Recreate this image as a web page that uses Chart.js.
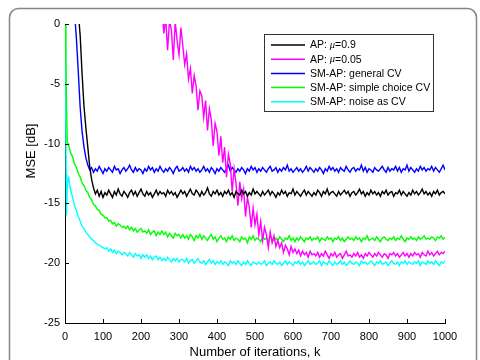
<!DOCTYPE html>
<html lang="en">
<head>
<meta charset="UTF-8">
<title>MSE vs iteraciones</title>
<script src="https://cdn.jsdelivr.net/npm/chart.js@4.4.0/dist/chart.umd.min.js"></script>
<style>
  html, body { margin: 0; padding: 0; background: #fff; }
  canvas { display: block; }
</style>
</head>
<body>
<canvas id="grafico" width="480" height="360"></canvas>
<script>
// Iteraciones (eje x)
const iteraciones = [0, 2, 4, 6, 8,
  10, 15, 20, 25, 30, 35, 40, 45, 50, 55,
  60, 65, 70, 75, 80, 85, 90, 95, 100, 105,
  110, 115, 120, 125, 130, 135, 140, 145, 150, 155,
  160, 165, 170, 175, 180, 185, 190, 195, 200, 205,
  210, 215, 220, 225, 230, 235, 240, 245, 250, 255,
  260, 265, 270, 275, 280, 285, 290, 295, 300, 305,
  310, 315, 320, 325, 330, 335, 340, 345, 350, 355,
  360, 365, 370, 375, 380, 385, 390, 395, 400, 405,
  410, 415, 420, 425, 430, 435, 440, 445, 450, 455,
  460, 465, 470, 475, 480, 485, 490, 495, 500, 505,
  510, 515, 520, 525, 530, 535, 540, 545, 550, 555,
  560, 565, 570, 575, 580, 585, 590, 595, 600, 605,
  610, 615, 620, 625, 630, 635, 640, 645, 650, 655,
  660, 665, 670, 675, 680, 685, 690, 695, 700, 705,
  710, 715, 720, 725, 730, 735, 740, 745, 750, 755,
  760, 765, 770, 775, 780, 785, 790, 795, 800, 805,
  810, 815, 820, 825, 830, 835, 840, 845, 850, 855,
  860, 865, 870, 875, 880, 885, 890, 895, 900, 905,
  910, 915, 920, 925, 930, 935, 940, 945, 950, 955,
  960, 965, 970, 975, 980, 985, 990, 995, 1000];

// AP: mu = 0.9
const apMu09 = [4, 4, 4, 4, 4,
  4, 4, 3.5, 3, 2, 1, -1, -4.2, -6.9, -8.7,
  -10.3, -11.9, -13.0, -13.7, -14.2, -13.9, -14.4, -14.0, -14.5, -14.1,
  -14.3, -13.9, -14.2, -14.5, -14.0, -14.3, -13.8, -14.2, -14.4, -14.0,
  -14.2, -14.5, -14.1, -13.9, -14.3, -14.0, -14.4, -14.1, -13.8, -14.2,
  -14.4, -14.0, -14.3, -14.1, -14.5, -14.2, -13.9, -14.3, -14.0, -14.2,
  -14.1, -14.4, -13.9, -14.2, -14.0, -14.3, -14.1, -14.5, -14.2, -13.9,
  -14.2, -14.0, -14.4, -14.1, -13.8, -14.2, -14.3, -13.9, -14.1, -14.4,
  -14.0, -14.3, -14.1, -13.7, -14.2, -14.4, -14.0, -14.2, -13.9, -14.3,
  -14.1, -14.4, -14.0, -14.2, -13.9, -14.3, -14.1, -14.5, -14.0, -14.2,
  -14.3, -13.9, -14.2, -14.0, -14.4, -14.1, -14.3, -13.8, -14.2, -14.0,
  -14.2, -14.4, -14.0, -14.3, -14.1, -13.9, -14.3, -14.0, -14.2, -14.5,
  -14.1, -14.3, -13.9, -14.2, -14.0, -14.4, -14.1, -14.2, -13.8, -14.3,
  -14.0, -14.2, -14.4, -14.1, -13.9, -14.3, -14.0, -14.2, -14.4, -14.1,
  -14.3, -13.9, -14.1, -14.4, -14.0, -14.2, -13.8, -14.3, -14.1, -14.0,
  -14.2, -14.4, -14.0, -14.3, -14.1, -13.9, -14.2, -14.0, -14.4, -14.1,
  -14.0, -14.3, -14.1, -13.8, -14.2, -14.0, -14.4, -14.1, -14.3, -13.9,
  -14.2, -14.0, -14.3, -14.1, -14.4, -14.0, -14.2, -13.9, -14.3, -14.1,
  -14.0, -14.4, -14.1, -14.2, -13.9, -14.3, -14.0, -14.2, -14.4, -14.1,
  -14.3, -13.9, -14.2, -14.0, -14.3, -14.1, -13.8, -14.2, -14.0, -14.3,
  -14.1, -14.4, -14.0, -14.2, -13.9, -14.3, -14.1, -14.0, -14.2];

// AP: mu = 0.05
const apMu005 = [3, 3, 3, 3, 3,
  3, 3, 3, 3, 3, 3, 3, 3, 3, 3,
  3, 3, 3, 3, 3, 3, 3, 3, 3, 3,
  3, 3, 3, 3, 3, 3, 3, 3, 3, 3,
  3, 3, 3, 3, 3, 3, 3, 3, 3, 3,
  3, 3, 3, 3, 3, 3, 3, 3, 3, 1.5,
  -0.8, 0.5, -2.2, 0.3, -0.5, -3.0, 0.2, -1.4, -2.6, -0.3,
  -1.8, -3.4, -2.5, -4.6, -3.7, -5.8, -4.3, -5.2, -7.2, -5.6,
  -6.0, -7.8, -6.4, -8.9, -7.1, -8.0, -10.2, -8.3, -9.0, -11.0,
  -9.4, -11.6, -10.3, -12.8, -10.9, -11.7, -14.0, -12.1, -13.3, -15.2,
  -13.2, -14.6, -13.8, -16.1, -14.5, -15.3, -17.0, -15.4, -16.8, -15.9,
  -17.6, -16.5, -18.1, -17.0, -17.6, -18.7, -17.4, -18.3, -17.7, -18.6,
  -18.1, -18.7, -18.3, -19.1, -18.5, -18.8, -19.3, -18.6, -19.1, -18.8,
  -19.2, -18.9, -19.4, -19.0, -19.3, -19.1, -19.5, -19.0, -19.3, -19.2,
  -19.4, -19.1, -19.5, -19.2, -19.4, -19.0, -19.3, -19.6, -19.2, -19.4,
  -19.1, -19.5, -19.3, -19.2, -19.6, -19.3, -19.0, -19.4, -19.3, -19.5,
  -19.2, -19.4, -19.1, -19.5, -19.3, -19.6, -19.2, -19.4, -19.1, -19.3,
  -19.5, -19.2, -19.4, -19.1, -19.3, -19.5, -19.2, -19.3, -19.6, -19.2,
  -19.3, -19.1, -19.4, -19.2, -19.5, -19.3, -19.1, -19.4, -19.2, -19.5,
  -19.2, -19.4, -19.1, -19.3, -19.2, -19.5, -19.1, -19.3, -19.4, -19.0,
  -19.3, -19.1, -19.4, -19.2, -19.0, -19.3, -19.1, -19.2, -19.0];

// SM-AP: general CV
const smapGeneral = [4, 4, 4, 4, 4,
  4, 4, 3.5, 1, -1.2, -4, -7, -9, -10.3, -11.2,
  -11.8, -12.2, -12.0, -12.4, -12.1, -12.3, -11.9, -12.2, -12.5, -12.1,
  -12.3, -12.0, -12.2, -12.4, -11.9, -12.2, -12.1, -12.5, -12.2, -12.0,
  -12.3, -12.1, -11.8, -12.2, -12.4, -12.0, -12.3, -12.1, -12.2, -12.5,
  -12.1, -12.3, -11.9, -12.2, -12.0, -12.4, -12.1, -12.3, -11.9, -12.2,
  -12.4, -12.1, -12.3, -12.0, -12.2, -12.5, -12.1, -11.9, -12.3, -12.2,
  -12.0, -12.3, -12.1, -12.4, -11.9, -12.2, -12.0, -12.3, -12.1, -12.4,
  -12.2, -11.9, -12.3, -12.1, -12.4, -12.0, -12.2, -12.5, -12.1, -12.3,
  -12.0, -12.2, -12.4, -12.1, -11.8, -12.3, -12.0, -12.2, -12.4, -12.1,
  -12.3, -12.0, -12.2, -12.5, -12.1, -12.3, -11.9, -12.2, -12.0, -12.4,
  -12.1, -12.3, -12.0, -12.2, -12.4, -12.1, -11.9, -12.3, -12.2, -12.0,
  -12.4, -12.1, -12.3, -12.0, -12.2, -11.8, -12.3, -12.1, -12.4, -12.2,
  -12.0, -12.3, -12.1, -12.4, -12.2, -11.9, -12.3, -12.0, -12.2, -12.4,
  -12.1, -12.3, -12.0, -12.2, -12.5, -12.1, -12.3, -11.9, -12.2, -12.0,
  -12.3, -12.1, -12.4, -12.0, -12.2, -12.3, -11.9, -12.2, -12.4, -12.1,
  -12.0, -12.3, -12.1, -12.2, -11.8, -12.3, -12.0, -12.4, -12.1, -12.2,
  -12.4, -12.0, -12.2, -12.3, -12.1, -11.9, -12.2, -12.4, -12.0, -12.3,
  -12.1, -12.2, -11.9, -12.3, -12.0, -12.4, -12.1, -12.2, -11.8, -12.3,
  -12.0, -12.2, -12.4, -12.1, -12.3, -11.9, -12.2, -12.0, -12.3, -12.1,
  -12.2, -11.9, -12.3, -12.0, -12.2, -12.4, -12.1, -11.8, -12.2];

// SM-AP: simple choice CV
const smapSimple = [3, -2, -7, -9.9, -10.0,
  -10.2, -10.8, -11.1, -11.7, -12.0, -12.5, -12.8, -13.3, -13.5, -13.9,
  -14.1, -14.5, -14.7, -15.1, -15.2, -15.5, -15.6, -15.9, -16.0, -16.2,
  -16.2, -16.5, -16.4, -16.7, -16.6, -16.9, -16.7, -16.8, -17.0, -16.9,
  -17.1, -16.9, -17.2, -17.0, -17.3, -17.1, -17.4, -17.2, -17.1, -17.4,
  -17.3, -17.5, -17.2, -17.6, -17.4, -17.3, -17.7, -17.4, -17.6, -17.3,
  -17.6, -17.4, -17.8, -17.5, -17.7, -17.9, -17.5, -17.7, -17.6, -17.9,
  -17.6, -17.9, -17.7, -18.0, -17.6, -17.8, -18.1, -17.7, -17.9, -17.6,
  -18.0, -17.7, -17.9, -18.1, -17.8, -17.6, -18.0, -17.8, -18.2, -17.9,
  -17.7, -18.0, -17.9, -18.2, -17.8, -18.0, -17.7, -18.1, -17.9, -18.0,
  -18.2, -17.8, -18.0, -17.9, -18.3, -17.8, -18.0, -17.7, -18.1, -17.9,
  -18.0, -18.2, -17.8, -18.0, -17.9, -18.2, -17.7, -18.0, -18.1, -17.9,
  -18.1, -17.8, -18.0, -18.2, -17.9, -18.0, -17.7, -18.1, -17.9, -18.2,
  -17.9, -18.1, -17.8, -18.0, -18.2, -17.9, -18.0, -17.8, -18.1, -17.9,
  -18.0, -17.8, -18.2, -17.9, -18.0, -18.1, -17.8, -18.0, -17.9, -18.2,
  -17.9, -18.0, -17.8, -18.1, -17.9, -18.2, -18.0, -17.8, -18.0, -17.9,
  -18.1, -17.8, -18.0, -17.9, -18.2, -17.9, -18.0, -17.7, -18.1, -18.0,
  -17.9, -18.1, -17.8, -18.0, -18.2, -17.9, -17.8, -18.0, -18.1, -17.9,
  -18.0, -17.8, -18.1, -17.9, -18.0, -17.7, -18.0, -18.2, -17.9, -18.0,
  -17.8, -18.0, -17.9, -18.1, -17.8, -18.0, -17.9, -17.7, -18.0, -17.9,
  -18.0, -17.8, -17.9, -18.1, -17.8, -17.9, -17.7, -18.0, -17.8];

// SM-AP: noise as CV
const smapRuido = [3, -8, -16, -13.5, -12.8,
  -13.0, -13.9, -14.5, -15.2, -15.6, -16.1, -16.5, -16.9, -17.1, -17.4,
  -17.6, -17.8, -18.0, -18.1, -18.3, -18.4, -18.5, -18.6, -18.7, -18.8,
  -18.7, -19.0, -18.8, -19.1, -18.9, -19.2, -19.0, -19.1, -19.3, -19.1,
  -19.2, -19.4, -19.1, -19.3, -19.5, -19.2, -19.4, -19.3, -19.6, -19.3,
  -19.5, -19.3, -19.6, -19.4, -19.7, -19.5, -19.4, -19.7, -19.5, -19.8,
  -19.6, -19.8, -19.5, -19.7, -19.9, -19.6, -19.8, -19.6, -19.9, -19.7,
  -19.7, -19.9, -19.6, -20.0, -19.8, -19.7, -20.0, -19.8, -19.6, -19.9,
  -20.0, -19.8, -20.1, -19.9, -19.7, -20.0, -19.8, -20.1, -19.9, -20.0,
  -19.8, -20.1, -19.9, -20.0, -20.2, -19.8, -20.0, -19.9, -20.1, -19.8,
  -20.0, -20.2, -19.9, -20.1, -19.8, -20.0, -20.2, -19.9, -20.0, -20.1,
  -19.9, -20.1, -20.0, -19.8, -20.2, -20.0, -19.9, -20.1, -19.8, -20.0,
  -20.1, -19.9, -20.2, -20.0, -19.8, -20.1, -19.9, -20.0, -20.2, -19.9,
  -20.0, -19.8, -20.1, -19.9, -20.2, -20.0, -19.8, -20.1, -20.0, -19.9,
  -20.1, -20.0, -19.8, -20.2, -19.9, -20.0, -20.1, -19.8, -20.0, -20.2,
  -19.9, -20.1, -20.0, -19.8, -20.1, -19.9, -20.2, -20.0, -19.8, -20.0,
  -20.1, -19.9, -20.0, -20.2, -19.8, -20.0, -19.9, -20.1, -20.0, -19.8,
  -20.0, -20.2, -19.9, -20.0, -19.8, -20.1, -20.0, -19.9, -20.2, -20.0,
  -19.8, -20.0, -20.1, -19.9, -20.2, -19.9, -20.0, -19.8, -20.1, -19.9,
  -20.0, -20.1, -19.9, -20.0, -19.8, -20.2, -19.9, -20.0, -20.1, -19.8,
  -20.0, -19.9, -20.1, -19.8, -20.0, -20.2, -19.9, -20.0, -19.8];

const etiquetas = ['AP: μ=0.9', 'AP: μ=0.05', 'SM-AP: general CV', 'SM-AP: simple choice CV', 'SM-AP: noise as CV'];
const colores = ['#000000', '#ff00ff', '#0000ff', '#00ff00', '#00ffff'];
const series = [apMu09, apMu005, smapGeneral, smapSimple, smapRuido];

const fuente = '"Liberation Sans", Arial, sans-serif';

// Marco redondeado alrededor de la figura
const marcoPlugin = {
    id: 'marco',
    beforeDraw(chart) {
        const ctx = chart.ctx;
        ctx.save();
        ctx.fillStyle = '#fff';
        ctx.fillRect(0, 0, chart.width, chart.height);
        ctx.strokeStyle = '#858585';
        ctx.lineWidth = 1.5;
        ctx.beginPath();
        ctx.roundRect(9.5, 8.5, 467, 390, 9);
        ctx.stroke();
        ctx.restore();
    }
};

// Marcas de los ejes hacia adentro + titulo del eje y
const marcasPlugin = {
    id: 'marcas',
    afterDatasetsDraw(chart) {
        const { ctx, chartArea, scales: { x, y } } = chart;
        ctx.save();
        ctx.strokeStyle = '#000';
        ctx.lineWidth = 1;
        ctx.beginPath();
        x.ticks.forEach(t => {
            const px = Math.round(x.getPixelForValue(t.value)) + 0.5;
            ctx.moveTo(px, chartArea.bottom);
            ctx.lineTo(px, chartArea.bottom - 4);
        });
        y.ticks.forEach(t => {
            const py = Math.round(y.getPixelForValue(t.value)) + 0.5;
            ctx.moveTo(chartArea.left, py);
            ctx.lineTo(chartArea.left + 4, py);
        });
        ctx.stroke();

        // titulo del eje y (algo por encima del centro, como en el original)
        ctx.translate(31, 151);
        ctx.rotate(-Math.PI / 2);
        ctx.fillStyle = '#000';
        ctx.font = '13px ' + fuente;
        ctx.textAlign = 'center';
        ctx.textBaseline = 'middle';
        ctx.fillText('MSE [dB]', 0, 0);
        ctx.restore();
    }
};

// Leyenda dentro del area del grafico
const leyendaPlugin = {
    id: 'leyenda',
    afterDraw(chart) {
        const ctx = chart.ctx;
        ctx.save();
        ctx.fillStyle = '#fff';
        ctx.fillRect(264.5, 34.5, 169, 77);
        ctx.strokeStyle = '#333';
        ctx.lineWidth = 1;
        ctx.strokeRect(264.5, 34.5, 169, 77);
        chart.data.datasets.forEach((ds, i) => {
            const yy = 45 + i * 14.2;
            ctx.strokeStyle = ds.borderColor;
            ctx.lineWidth = 1.5;
            ctx.beginPath();
            ctx.moveTo(271, yy);
            ctx.lineTo(305, yy);
            ctx.stroke();
            ctx.fillStyle = '#000';
            ctx.textBaseline = 'middle';
            let xx = 310;
            ds.label.split(/(μ)/).forEach(parte => {
                if (!parte) return;
                ctx.font = parte === 'μ' ? 'italic 10.5px "Liberation Serif", serif' : '10.5px ' + fuente;
                ctx.fillText(parte, xx, yy + 0.5);
                xx += ctx.measureText(parte).width;
            });
        });
        ctx.restore();
    }
};

const ctx = document.getElementById('grafico').getContext('2d');
const grafico = new Chart(ctx, {
    type: 'line',
    data: {
        datasets: series.map((valores, i) => ({
            label: etiquetas[i],
            data: valores.map((v, j) => ({ x: iteraciones[j], y: v })),
            borderColor: colores[i],
            borderWidth: 1.4,
            pointRadius: 0,
            tension: 0,
            fill: false,
            clip: 0
        }))
    },
    options: {
        responsive: false,
        animation: false,
        events: [],
        layout: { padding: { left: 0, top: 24, right: 35, bottom: 0 } },
        plugins: {
            legend: { display: false },
            tooltip: { enabled: false }
        },
        scales: {
            x: {
                type: 'linear',
                min: 0,
                max: 1000,
                grid: { display: false, drawTicks: false },
                border: { display: true, color: '#000', width: 1 },
                ticks: {
                    stepSize: 100,
                    autoSkip: false,
                    maxRotation: 0,
                    padding: 7,
                    color: '#000',
                    font: { family: fuente, size: 11 },
                    callback: v => String(v)
                },
                title: {
                    display: true,
                    text: 'Number of iterations, k',
                    color: '#000',
                    font: { family: fuente, size: 13 },
                    padding: { top: 0, bottom: 0 }
                },
                afterFit: s => { s.height = 37; }
            },
            y: {
                min: -25,
                max: 0,
                grid: { display: false, drawTicks: false },
                border: { display: true, color: '#000', width: 1 },
                ticks: {
                    stepSize: 5,
                    padding: 5,
                    color: '#000',
                    font: { family: fuente, size: 11 },
                    callback: v => String(v)
                },
                title: { display: false },
                afterFit: s => { s.width = 65; }
            }
        }
    },
    plugins: [marcoPlugin, marcasPlugin, leyendaPlugin]
});
</script>
</body>
</html>
